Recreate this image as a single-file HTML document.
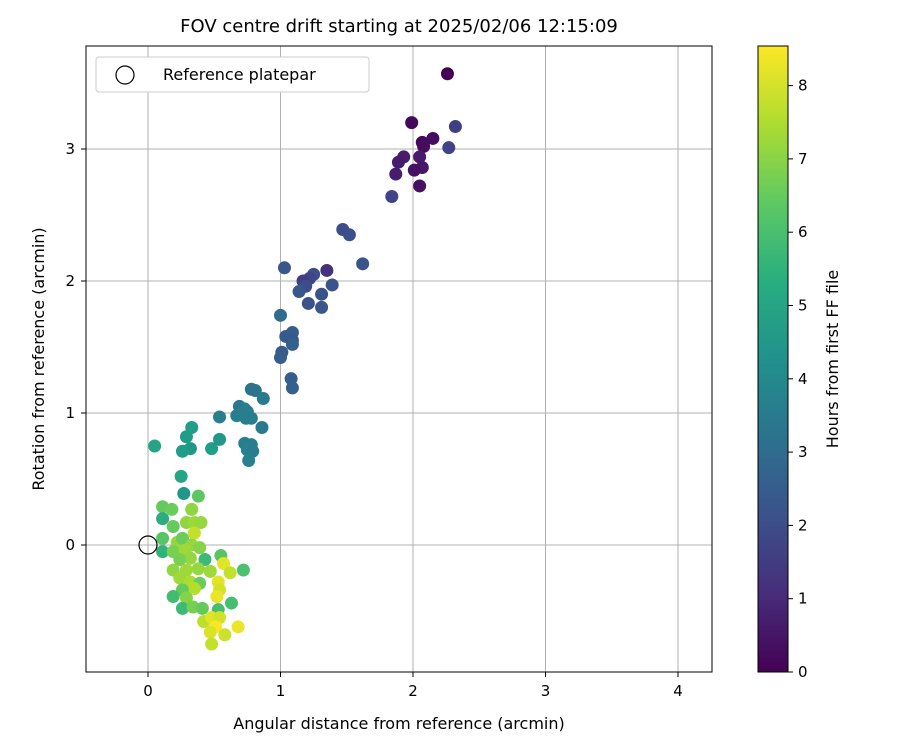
<!DOCTYPE html>
<html><head><meta charset="utf-8"><style>
body{margin:0;background:#fff;font-family:"Liberation Sans","DejaVu Sans",sans-serif}
svg text{font-family:"DejaVu Sans","Liberation Sans",sans-serif;fill:#000}
</style></head><body>
<svg id="chart" width="900" height="750">
<defs><linearGradient id="vir" x1="0" y1="1" x2="0" y2="0">
<stop offset="0" stop-color="#440154"/><stop offset="0.125" stop-color="#472d7b"/><stop offset="0.25" stop-color="#3b528b"/><stop offset="0.375" stop-color="#2c728e"/><stop offset="0.5" stop-color="#21918c"/><stop offset="0.625" stop-color="#28ae80"/><stop offset="0.75" stop-color="#5ec962"/><stop offset="0.875" stop-color="#addc30"/><stop offset="1" stop-color="#fde725"/></linearGradient></defs>
<text x="399" y="32" font-size="18" text-anchor="middle">FOV centre drift starting at 2025/02/06 12:15:09</text>
<g id="grid"></g>
<g id="points"></g>
<rect x="86" y="46" width="626" height="626" fill="none" stroke="#000" stroke-width="1"/>
<g id="ticks"></g>
<text x="399" y="729" font-size="16" text-anchor="middle">Angular distance from reference (arcmin)</text>
<text transform="translate(44,359) rotate(-90)" font-size="16" text-anchor="middle">Rotation from reference (arcmin)</text>
<g>
<rect x="96" y="57" width="273" height="35" rx="3" fill="#fff" stroke="#ccc"/>
<circle cx="125" cy="75" r="9" fill="none" stroke="#000" stroke-width="1.2"/>
<text x="163" y="80" font-size="16">Reference platepar</text>
</g>
<rect x="758" y="46" width="30" height="626" fill="url(#vir)" stroke="#000" stroke-width="1"/>
<g id="cbticks"></g>
<text transform="translate(838,359) rotate(-90)" font-size="16" text-anchor="middle">Hours from first FF file</text>
</svg>
<script>
const xs=[2.26,1.99,2.32,2.15,2.07,2.08,2.27,1.93,1.89,2.05,2.07,2.01,1.87,2.05,1.84,1.47,1.52,1.03,1.62,1.35,1.25,1.22,1.17,1.19,1.39,1.14,1.31,1.21,1.31,1.00,1.04,1.09,1.09,1.09,1.01,1.00,1.08,1.09,
0.78,0.81,0.87,0.69,0.73,0.75,0.67,0.54,0.74,0.78,0.86,0.73,0.78,0.75,0.79,0.76,0.33,0.29,0.32,0.26,0.48,0.54,0.05,0.25,0.27,0.38,
0.11,0.18,0.33,0.11,0.19,0.29,0.35,0.40,0.35,0.11,0.22,0.26,0.33,0.39,0.11,0.19,0.28,0.32,0.24,0.55,0.43,0.57,0.19,0.29,0.38,0.47,0.62,0.72,0.24,0.32,0.39,0.53,0.54,0.35,0.26,0.19,0.29,0.52,0.63,0.26,0.34,0.41,0.53,0.42,0.48,0.54,0.51,0.68,0.47,0.58,0.48];
const ys=[3.57,3.20,3.17,3.08,3.05,3.02,3.01,2.94,2.90,2.94,2.86,2.84,2.81,2.72,2.64,2.39,2.35,2.10,2.13,2.08,2.05,2.02,2.00,1.96,1.97,1.92,1.90,1.83,1.80,1.74,1.58,1.61,1.55,1.52,1.46,1.42,1.26,1.19,
1.18,1.17,1.11,1.05,1.03,1.01,0.98,0.97,0.96,0.96,0.89,0.77,0.76,0.72,0.71,0.64,0.89,0.82,0.73,0.71,0.73,0.80,0.75,0.52,0.39,0.37,
0.29,0.27,0.27,0.20,0.14,0.17,0.17,0.17,0.09,0.05,0.02,0.05,0.00,-0.02,-0.05,-0.05,-0.04,-0.10,-0.11,-0.08,-0.11,-0.14,-0.19,-0.19,-0.18,-0.20,-0.21,-0.19,-0.25,-0.28,-0.29,-0.28,-0.34,-0.33,-0.34,-0.39,-0.40,-0.39,-0.44,-0.48,-0.47,-0.48,-0.49,-0.58,-0.55,-0.55,-0.62,-0.62,-0.66,-0.68,-0.75];
const hours=[0.0,0.2,1.6,0.3,0.2,0.3,1.7,0.7,0.6,0.6,0.5,0.4,0.7,0.4,1.8,2.0,2.1,2.3,2.2,1.2,2.1,1.8,1.5,2.0,2.2,2.3,2.2,2.2,2.3,3.0,2.4,2.5,2.4,2.6,2.5,2.5,2.5,2.6,
3.3,3.3,3.5,3.4,3.6,3.6,3.6,3.6,3.7,3.7,3.5,3.7,3.7,3.8,3.6,3.8,4.8,4.7,4.5,4.7,4.8,4.5,5.0,5.0,4.5,6.4,
6.5,6.6,7.1,5.3,6.5,7.1,7.3,7.2,7.8,6.3,7.2,6.6,7.2,7.0,5.5,6.8,7.3,7.2,6.8,6.3,5.8,8.2,7.1,7.3,7.2,7.3,7.8,6.1,7.3,7.5,6.6,8.2,8.0,7.6,6.5,5.9,7.0,8.3,6.0,5.8,6.8,6.5,6.0,7.7,8.2,8.0,8.5,8.3,8.1,7.9,7.8];
const xTicks=[0,1,2,3,4], yTicks=[0,1,2,3], cTicks=[0,1,2,3,4,5,6,7,8];
const X=v=>148+v*132.5, Y=v=>545-v*132, C=v=>672-v*73.3;
const NS='http://www.w3.org/2000/svg';
const stops=[[68,1,84],[72,40,120],[62,74,137],[49,104,142],[38,130,142],[31,158,137],[53,183,121],[109,205,89],[180,222,44],[253,231,37]];
function vir(t){t=Math.max(0,Math.min(1,t))*9;const i=Math.min(8,Math.floor(t)),f=t-i;const a=stops[i],b=stops[i+1];return 'rgb('+a.map((c,k)=>Math.round(c+(b[k]-c)*f)).join(',')+')';}
function mk(tag,attrs,parent){const e=document.createElementNS(NS,tag);for(const k in attrs)e.setAttribute(k,attrs[k]);parent.appendChild(e);return e;}
const grid=document.getElementById('grid'),ticks=document.getElementById('ticks'),pts=document.getElementById('points'),cb=document.getElementById('cbticks');
xTicks.forEach(v=>{const x=X(v);
const g=mk('line',{x1:x,x2:x,y1:46,y2:672,stroke:'#b0b0b0','stroke-width':1},grid);


mk('line',{x1:x,x2:x,y1:672,y2:677,stroke:'#000'},ticks);
const t=mk('text',{x:x,y:696,'font-size':15,'text-anchor':'middle'},ticks);t.textContent=v;

});
yTicks.forEach(v=>{const y=Y(v);
const g=mk('line',{x1:86,x2:712,y1:y,y2:y,stroke:'#b0b0b0','stroke-width':1},grid);


mk('line',{x1:81,x2:86,y1:y,y2:y,stroke:'#000'},ticks);
const t=mk('text',{x:75,y:y+5,'font-size':15,'text-anchor':'end'},ticks);t.textContent=v;

});
xs.forEach((v,i)=>{const c=mk('circle',{cx:X(v),cy:Y(ys[i]),r:6.5,fill:vir(hours[i]/8.55)},pts);

});
const ref=mk('circle',{cx:X(0),cy:Y(0),r:9,fill:'none',stroke:'#000','stroke-width':1.2},pts);


cTicks.forEach(v=>{const y=C(v);
mk('line',{x1:788,x2:793,y1:y,y2:y,stroke:'#000'},cb);
const t=mk('text',{x:798,y:y+5,'font-size':15},cb);t.textContent=v;

});
</script>
</body></html>
